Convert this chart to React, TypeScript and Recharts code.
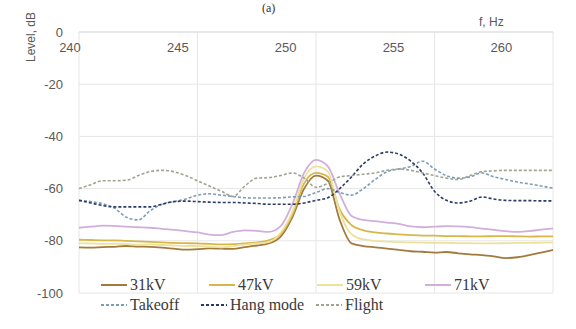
import { LineChart, Line, XAxis, YAxis, CartesianGrid } from 'recharts';

// frequency grid, Hz
const FREQ = [
  240, 240.5, 241, 241.5, 242, 242.5, 243, 243.5, 244, 244.5,
  245, 245.5, 246, 246.5, 247, 247.5, 248, 248.5, 249, 249.5,
  250, 250.5, 251, 251.5, 252, 252.5, 253, 253.5, 254, 254.5,
  255, 255.5, 256, 256.5, 257, 257.5, 258, 258.5, 259, 259.5, 260,
];

// levels, dB
const KV31 = [
  -82.5, -82.6, -82.4, -82.3, -82.0, -82.2, -82.3, -82.6, -83.0, -83.4,
  -83.2, -82.9, -83.0, -83.1, -82.4, -81.8, -81.0, -78.5, -71.0, -60.0,
  -55.0, -57.0, -72.0, -81.0, -82.0, -82.5, -83.0, -83.5, -84.0, -84.2,
  -84.5, -84.3, -84.8, -85.2, -85.5, -86.0, -86.6, -86.3, -85.5, -84.5, -83.5,
];
const KV47 = [
  -79.6, -79.7, -79.8, -79.8, -80.0, -80.2, -80.4, -80.6, -80.8, -80.9,
  -81.0, -81.2, -81.4, -81.3, -81.0, -80.6, -79.8, -77.5, -70.0, -58.0,
  -54.0, -55.5, -68.0, -74.0, -76.0, -76.8, -77.2, -77.5, -77.8, -78.0,
  -78.0, -78.2, -78.2, -78.3, -78.3, -78.2, -78.2, -78.3, -78.4, -78.3, -78.3,
];
const KV59 = [
  -81.0, -81.0, -81.2, -81.1, -81.3, -81.5, -81.4, -81.6, -81.8, -82.0,
  -82.0, -82.3, -82.5, -82.0, -81.5, -81.0, -80.5, -77.0, -69.0, -56.0,
  -51.5, -53.5, -69.0, -77.5, -79.5, -80.0, -80.3, -80.5, -80.6, -80.7,
  -80.8, -80.8, -80.9, -80.9, -81.0, -81.0, -80.9, -80.8, -80.8, -80.7, -80.6,
];
const KV71 = [
  -75.0, -74.6, -74.2, -74.3, -74.6, -74.8, -75.0, -75.4, -75.8, -76.3,
  -76.8, -77.6, -77.8, -76.6, -76.0, -76.2, -76.6, -74.5, -66.0, -54.0,
  -49.0, -51.5, -62.0, -70.5, -72.0, -72.5, -73.0, -73.5, -74.5, -74.8,
  -74.6, -74.4, -74.5, -74.8, -75.3, -75.8, -76.3, -76.6, -76.3, -75.7, -75.2,
];
const TAKEOFF = [
  -64.5, -65.0, -65.8, -67.5, -71.0, -72.0, -68.5, -66.0, -65.0, -64.0,
  -62.5, -62.0, -62.5, -63.0, -63.5, -63.6, -63.6, -63.5, -63.2, -63.0,
  -61.5, -60.0, -61.5, -62.5, -60.0, -56.5, -53.5, -52.5, -51.5, -49.5,
  -52.5, -55.0, -56.0, -55.5, -54.0, -55.5, -56.5, -57.5, -58.2, -59.0, -59.8,
];
const HANG = [
  -64.5, -65.5, -66.5, -67.0, -67.0, -67.0, -67.0, -66.0, -65.0, -64.8,
  -65.0, -65.2, -65.3, -65.3, -65.5, -65.7, -66.0, -66.0, -66.0, -65.5,
  -64.5, -63.5, -60.0, -55.5, -50.5, -47.5, -46.0, -46.8, -49.5, -54.0,
  -61.0, -64.5, -65.5, -64.8, -63.2, -64.0, -64.5, -64.6, -64.6, -64.7, -64.7,
];
const FLIGHT = [
  -60.0, -58.5, -57.0, -57.0, -56.8, -55.0, -53.5, -53.0, -53.5, -55.0,
  -57.0, -59.0, -61.0, -63.0, -59.0, -56.0, -55.8, -55.0, -54.0, -56.0,
  -59.5, -58.0, -55.5, -55.0, -54.5, -54.0, -53.0, -52.5, -53.0, -54.0,
  -55.0, -56.0, -56.5, -55.0, -53.5, -53.2, -53.0, -53.0, -53.0, -53.0, -53.0,
];

const X_TICKS = [240, 245, 250, 255, 260];
const Y_TICKS = [0, -20, -40, -60, -80, -100];

const SERIES = [
  { key: 'kv31', name: '31kV', values: KV31, color: '#a27a3e', dash: undefined },
  { key: 'kv47', name: '47kV', values: KV47, color: '#d8b64a', dash: undefined },
  { key: 'kv59', name: '59kV', values: KV59, color: '#ede29c', dash: undefined },
  { key: 'kv71', name: '71kV', values: KV71, color: '#d2aedc', dash: undefined },
  { key: 'takeoff', name: 'Takeoff', values: TAKEOFF, color: '#7d9cb6', dash: '3 2' },
  { key: 'hang', name: 'Hang mode', values: HANG, color: '#2c3a66', dash: '3 2' },
  { key: 'flight', name: 'Flight', values: FLIGHT, color: '#9fa58f', dash: '3 2' },
];

const data = FREQ.map((f, i) => {
  const row: Record<string, number> = { f };
  SERIES.forEach((s) => {
    row[s.key] = s.values[i];
  });
  return row;
});

const W = 576;
const H = 329;
const PLOT_LEFT = 79;
const AXIS_FONT = '"Liberation Sans", Arial, sans-serif';
const LEGEND_FONT = '"Liberation Serif", "Times New Roman", serif';

// frequency labels sit under the 0 dB line, slightly drawn in toward the left
function FreqTick({ x, y, payload }: any) {
  const lx = PLOT_LEFT + (x - PLOT_LEFT) * 0.91 - 9;
  return (
    <text
      x={lx}
      y={y + 17}
      textAnchor="middle"
      dominantBaseline="middle"
      fill="#595959"
      fontSize={13}
      fontFamily={AXIS_FONT}
    >
      {payload.value}
    </text>
  );
}

function LegendSwatch({ color, dash }: { color: string; dash?: string }) {
  return (
    <svg width={26} height={6} style={{ marginRight: 3 }}>
      <line x1={0} y1={3} x2={26} y2={3} stroke={color} strokeWidth={2} strokeDasharray={dash} />
    </svg>
  );
}

function LegendRows() {
  const solid = SERIES.filter((s) => !s.dash);
  const dashed = SERIES.filter((s) => s.dash);
  const dashedWidths = [100, 115, 90];
  const itemStyle = {
    display: 'flex',
    alignItems: 'center',
    fontFamily: LEGEND_FONT,
    fontSize: 16,
    color: '#3a3a3a',
    whiteSpace: 'nowrap' as const,
  };
  return (
    <div style={{ position: 'absolute', left: 101, top: 275 }}>
      <div style={{ display: 'flex', height: 20 }}>
        {solid.map((s) => (
          <div key={s.key} style={{ ...itemStyle, width: 108 }}>
            <LegendSwatch color={s.color} />
            {s.name}
          </div>
        ))}
      </div>
      <div style={{ display: 'flex', height: 20 }}>
        {dashed.map((s, i) => (
          <div key={s.key} style={{ ...itemStyle, width: dashedWidths[i] }}>
            <LegendSwatch color={s.color} dash={s.dash} />
            {s.name}
          </div>
        ))}
      </div>
    </div>
  );
}

export default function App() {
  return (
    <div
      style={{
        position: 'absolute',
        left: 0,
        top: 0,
        width: W,
        height: H,
        background: '#fff',
        overflow: 'hidden',
      }}
    >
      <LineChart
        width={W}
        height={H}
        data={data}
        margin={{ top: 30, right: 23, bottom: 36, left: 29 }}
      >
        <CartesianGrid stroke="#e6e6e6" strokeWidth={1} />
        <XAxis
          dataKey="f"
          type="number"
          orientation="top"
          domain={[240, 260]}
          ticks={X_TICKS}
          height={2}
          tickSize={0}
          tickMargin={0}
          axisLine={{ stroke: '#dcdcdc' }}
          tick={<FreqTick />}
        />
        <YAxis
          type="number"
          domain={[-100, 0]}
          ticks={Y_TICKS}
          width={50}
          tickSize={0}
          tickMargin={16}
          axisLine={false}
          tick={{ fill: '#595959', fontSize: 13, fontFamily: AXIS_FONT }}
        />
        {SERIES.map((s) => (
          <Line
            key={s.key}
            dataKey={s.key}
            name={s.name}
            type="monotone"
            stroke={s.color}
            strokeWidth={s.dash ? 1.6 : 1.8}
            strokeDasharray={s.dash}
            dot={false}
            isAnimationActive={false}
          />
        ))}
      </LineChart>

      <div
        style={{
          position: 'absolute',
          left: 31,
          top: 37,
          transform: 'translate(-50%, -50%) rotate(-90deg)',
          fontFamily: AXIS_FONT,
          fontSize: 12,
          color: '#595959',
          whiteSpace: 'nowrap',
        }}
      >
        Level, dB
      </div>
      <div
        style={{
          position: 'absolute',
          left: 479,
          top: 15,
          fontFamily: AXIS_FONT,
          fontSize: 12,
          color: '#595959',
        }}
      >
        f, Hz
      </div>
      <div
        style={{
          position: 'absolute',
          left: 262,
          top: 1,
          fontFamily: LEGEND_FONT,
          fontSize: 12,
          lineHeight: '14px',
          color: '#333',
        }}
      >
        (a)
      </div>
      <LegendRows />
    </div>
  );
}
